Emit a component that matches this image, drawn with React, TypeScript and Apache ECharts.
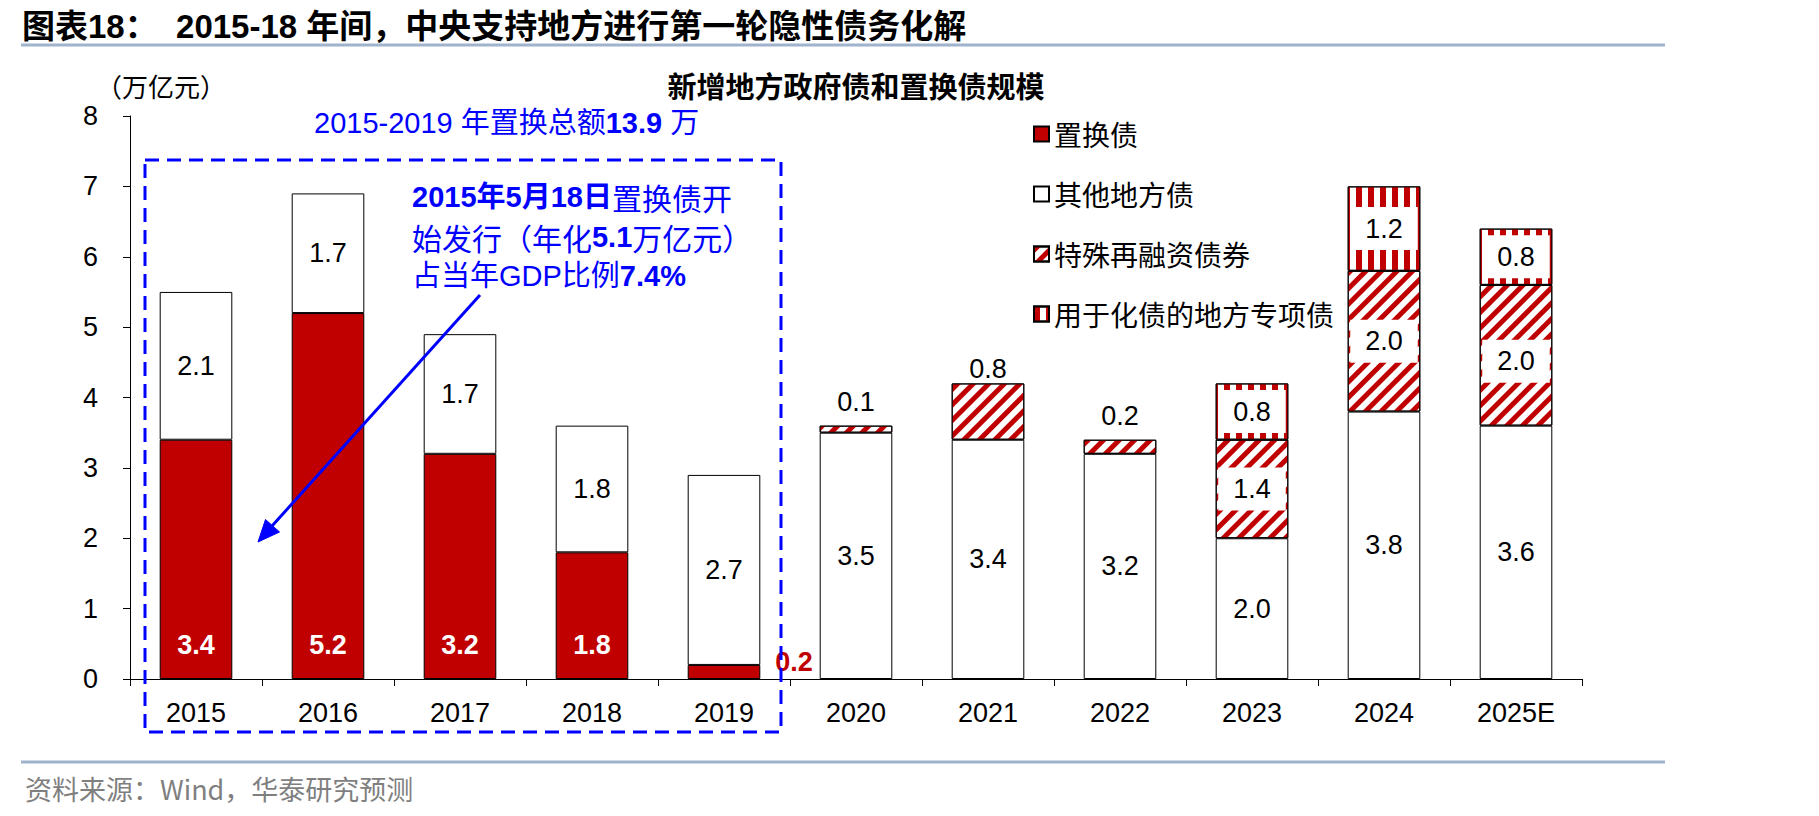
import React, { useEffect, useRef } from 'react';
import * as echarts from 'echarts';

// ---- data ----
const categories = ['2015', '2016', '2017', '2018', '2019', '2020', '2021', '2022', '2023', '2024', '2025E'];
const replacementBonds = [3.4, 5.2, 3.2, 1.8, 0.2, null, null, null, null, null, null];
const otherLocalBonds = [2.1, 1.7, 1.7, 1.8, 2.7, 3.5, 3.4, 3.2, 2.0, 3.8, 3.6];
const refinancingBonds = [null, null, null, null, null, 0.1, 0.8, 0.2, 1.4, 2.0, 2.0];
const debtSpecialBonds = [null, null, null, null, null, null, null, null, 0.8, 1.2, 0.8];
const seriesNames = ['置换债', '其他地方债', '特殊再融资债券', '用于化债的地方专项债'];
const yMin = 0;
const yMax = 8;
const yStep = 1;

// ---- styles ----
const RED = '#C00000';
const BLUE = '#0000FF';
const LATIN = "'Liberation Sans', 'Noto Sans CJK SC', sans-serif";
const NARROW = "'Liberation Sans Narrow', 'Liberation Sans', 'Noto Sans CJK SC', sans-serif";
const CJK = "'Noto Sans CJK SC', 'Liberation Sans', sans-serif";
const RULE = '#9FB3CC';
const LABEL_SIZE = 27;
const NOTE_SIZE = 29;

const fmt = (p: any) => (typeof p.value === 'number' ? p.value.toFixed(1) : '');

const diagDecal = {
  symbol: 'rect',
  symbolSize: 1,
  symbolKeepAspect: false,
  color: RED,
  backgroundColor: '#ffffff',
  dashArrayX: [1, 0],
  dashArrayY: [4.5, 6],
  rotation: -Math.PI / 4,
};

const vertDecal = {
  symbol: 'rect',
  symbolSize: 1,
  symbolKeepAspect: false,
  color: RED,
  backgroundColor: '#ffffff',
  dashArrayX: [6, 6],
  dashArrayY: [1, 0],
  rotation: 0,
};

const boxLabel = {
  show: true,
  position: 'inside',
  color: '#000',
  fontSize: LABEL_SIZE,
  fontFamily: LATIN,
  backgroundColor: '#ffffff',
  padding: [8, 15],
  formatter: fmt,
};

function buildReplacement() {
  return replacementBonds.map((v, i) => {
    if (v == null) return '-';
    if (i === 4) {
      return {
        value: v,
        label: { position: 'right', distance: 15, offset: [0, -10], color: RED },
      };
    }
    return { value: v };
  });
}

function buildOther() {
  return otherLocalBonds.map((v) => (v == null ? '-' : { value: v }));
}

function buildRefinancing() {
  return refinancingBonds.map((v, i) => {
    if (v == null) return '-';
    if (debtSpecialBonds[i] == null) {
      // thin slices carry their value above the column
      return {
        value: v,
        label: {
          position: 'top',
          distance: 10,
          offset: i === 6 ? [0, 9] : [0, 0],
          backgroundColor: 'transparent',
          padding: 0,
        },
      };
    }
    if (i === categories.length - 1) {
      return { value: v, label: { offset: [0, 6] } };
    }
    return { value: v };
  });
}

function buildSpecial() {
  return debtSpecialBonds.map((v) => (v == null ? '-' : { value: v }));
}

const baseItem = { borderColor: '#000', borderWidth: 1 };

const option: any = {
  animation: false,
  backgroundColor: '#ffffff',
  grid: { left: 130, right: 237, top: 116, bottom: 137, containLabel: false },
  legend: {
    orient: 'vertical',
    left: 1028,
    top: 115,
    itemWidth: 15,
    itemHeight: 15,
    itemGap: 32,
    icon: 'rect',
    selectedMode: false,
    data: seriesNames,
    textStyle: { fontSize: 28, fontFamily: CJK, color: '#000', lineHeight: 28 },
  },
  xAxis: {
    type: 'category',
    data: categories,
    boundaryGap: true,
    axisLine: { show: true, lineStyle: { color: '#000', width: 1 } },
    axisTick: { show: true, inside: false, length: 7, alignWithLabel: false, lineStyle: { color: '#000' } },
    axisLabel: { color: '#000', fontSize: LABEL_SIZE, fontFamily: LATIN, margin: 20, interval: 0 },
    splitLine: { show: false },
  },
  yAxis: {
    type: 'value',
    min: yMin,
    max: yMax,
    interval: yStep,
    axisLine: { show: true, lineStyle: { color: '#000', width: 1 } },
    axisTick: { show: true, inside: false, length: 7, lineStyle: { color: '#000' } },
    axisLabel: { color: '#000', fontSize: LABEL_SIZE, fontFamily: LATIN, margin: 32 },
    splitLine: { show: false },
  },
  series: [
    {
      name: seriesNames[0],
      type: 'bar',
      stack: 'total',
      barWidth: '55%',
      emphasis: { disabled: true },
      itemStyle: { ...baseItem, color: RED },
      label: {
        show: true,
        position: 'insideBottom',
        distance: 21,
        color: '#fff',
        fontWeight: 'bold',
        fontSize: LABEL_SIZE,
        fontFamily: LATIN,
        formatter: fmt,
      },
      data: buildReplacement(),
    },
    {
      name: seriesNames[1],
      type: 'bar',
      stack: 'total',
      barWidth: '55%',
      emphasis: { disabled: true },
      itemStyle: { ...baseItem, color: '#ffffff' },
      label: {
        show: true,
        position: 'inside',
        color: '#000',
        fontSize: LABEL_SIZE,
        fontFamily: LATIN,
        formatter: fmt,
      },
      data: buildOther(),
    },
    {
      name: seriesNames[2],
      type: 'bar',
      stack: 'total',
      barWidth: '55%',
      emphasis: { disabled: true },
      itemStyle: { ...baseItem, color: '#ffffff', decal: diagDecal },
      label: boxLabel,
      data: buildRefinancing(),
    },
    {
      name: seriesNames[3],
      type: 'bar',
      stack: 'total',
      barWidth: '55%',
      emphasis: { disabled: true },
      itemStyle: { ...baseItem, color: '#ffffff', decal: vertDecal },
      label: boxLabel,
      data: buildSpecial(),
    },
  ],
  graphic: [
    {
      type: 'text',
      x: 22,
      y: 26,
      style: {
        text: '图表18：  2015-18 年间，中央支持地方进行第一轮隐性债务化解',
        fontSize: 33,
        fontWeight: 'bold',
        fontFamily: NARROW,
        fill: '#000',
        verticalAlign: 'middle',
      },
    },
    { type: 'line', shape: { x1: 21, y1: 45, x2: 1665, y2: 45 }, style: { stroke: RULE, lineWidth: 3 } },
    { type: 'line', shape: { x1: 21, y1: 762, x2: 1665, y2: 762 }, style: { stroke: RULE, lineWidth: 3 } },
    {
      type: 'text',
      x: 25,
      y: 788,
      style: {
        text: '资料来源：Wind，华泰研究预测',
        fontSize: 27,
        fontFamily: CJK,
        fill: '#7F7F7F',
        verticalAlign: 'middle',
      },
    },
    {
      type: 'text',
      x: 96,
      y: 85,
      style: { text: '（万亿元）', fontSize: 26, fontFamily: CJK, fill: '#000', verticalAlign: 'middle' },
    },
    {
      type: 'text',
      x: 856,
      y: 85,
      style: {
        text: '新增地方政府债和置换债规模',
        fontSize: 29,
        fontWeight: 'bold',
        fontFamily: CJK,
        fill: '#000',
        align: 'center',
        verticalAlign: 'middle',
      },
    },
    {
      type: 'rect',
      z: 100,
      shape: { x: 145, y: 160, width: 636, height: 572 },
      style: { fill: 'none', stroke: BLUE, lineWidth: 3, lineDash: [14, 8] },
    },
    {
      type: 'text',
      z: 100,
      x: 314,
      y: 123,
      style: {
        text: '2015-2019 年置换总额{b|13.9} 万',
        fontSize: NOTE_SIZE,
        fontFamily: NARROW,
        fill: BLUE,
        verticalAlign: 'middle',
        rich: { b: { fontSize: NOTE_SIZE, fontWeight: 'bold', fontFamily: NARROW, fill: BLUE } },
      },
    },
    {
      type: 'text',
      z: 100,
      x: 412,
      y: 197,
      style: {
        text: '{b|2015年5月18日}置换债开',
        fontSize: 30,
        fontFamily: CJK,
        fill: BLUE,
        verticalAlign: 'middle',
        rich: { b: { fontSize: NOTE_SIZE, fontWeight: 'bold', fontFamily: NARROW, fill: BLUE } },
      },
    },
    {
      type: 'text',
      z: 100,
      x: 412,
      y: 237,
      style: {
        text: '始发行（年化{b|5.1}万亿元）',
        fontSize: 30,
        fontFamily: CJK,
        fill: BLUE,
        verticalAlign: 'middle',
        rich: { b: { fontSize: NOTE_SIZE, fontWeight: 'bold', fontFamily: LATIN, fill: BLUE } },
      },
    },
    {
      type: 'text',
      z: 100,
      x: 412,
      y: 276,
      style: {
        text: '占当年GDP比例{b|7.4%}',
        fontSize: NOTE_SIZE,
        fontFamily: LATIN,
        fill: BLUE,
        verticalAlign: 'middle',
        rich: { b: { fontSize: NOTE_SIZE, fontWeight: 'bold', fontFamily: LATIN, fill: BLUE } },
      },
    },
    {
      type: 'line',
      z: 100,
      shape: { x1: 480, y1: 295, x2: 272, y2: 526 },
      style: { stroke: BLUE, lineWidth: 3 },
    },
    {
      type: 'polygon',
      z: 100,
      shape: { points: [[258, 542], [279.5, 532], [265.5, 519.5]] },
      style: { fill: BLUE, stroke: BLUE, lineWidth: 1 },
    },
  ],
};

export default function App() {
  const ref = useRef<HTMLDivElement>(null);
  useEffect(() => {
    if (!ref.current) return;
    const chart = echarts.init(ref.current, null, { renderer: 'svg' });
    chart.setOption(option);
    return () => chart.dispose();
  }, []);
  return (
    <div
      ref={ref}
      style={{ position: 'fixed', left: 0, top: 0, width: 1819, height: 816, background: '#ffffff' }}
    />
  );
}
